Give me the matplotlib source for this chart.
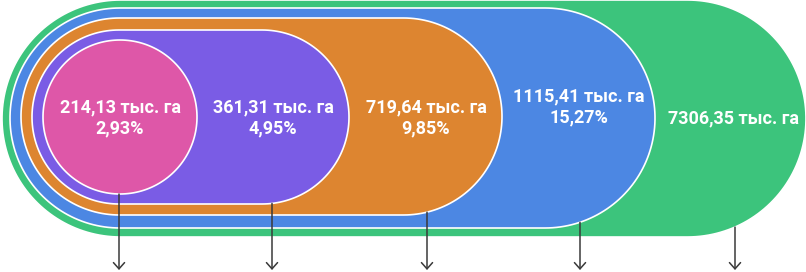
import numpy as np
import matplotlib.pyplot as plt
from matplotlib.patches import Polygon, FancyArrowPatch

plt.rcParams['font.family'] = ['Roboto', 'DejaVu Sans']

# data
areas = ['214,13', '361,31', '719,64', '1115,41', '7306,35']
shares = ['2,93%', '4,95%', '9,85%', '15,27%', '']
colors = ['#de57a8', '#7a5ce5', '#dd8530', '#4c87e3', '#3cc47c']

# layout (pixels): left, top, right, bottom of each nested stadium
boxes = [(43, 40, 197, 194),
         (32, 30, 349, 204),
         (21, 18, 502, 215),
         (10, 8, 655, 228),
         (2, 0, 806, 237)]
arrow_x = [119, 272, 427, 580, 735]
label_x = [120, 273, 426, 579, 733]
label_y = [107, 107, 107, 96, 118]


def stadium(l, t, r, b):
    rad = (b - t) / 2.
    cy = t + rad
    a = np.linspace(np.pi / 2, 3 * np.pi / 2, 90)
    left = np.c_[l + rad + rad * np.cos(a), cy - rad * np.sin(a)]
    a = np.linspace(-np.pi / 2, np.pi / 2, 90)
    right = np.c_[r - rad + rad * np.cos(a), cy - rad * np.sin(a)]
    return np.vstack([left, right])


fig = plt.figure(figsize=(8.06, 2.72), dpi=100)
ax = fig.add_axes([0, 0, 1, 1])
ax.set_xlim(0, 806)
ax.set_ylim(272, 0)
ax.axis('off')

# largest first so smaller ones sit on top
for i in range(len(boxes) - 1, -1, -1):
    p = Polygon(stadium(*boxes[i]), closed=True, fc=colors[i], ec='white',
                lw=1.2, zorder=5 - i)
    ax.add_patch(p)

for i in range(len(boxes)):
    l, t, r, b = boxes[i]
    rad = (b - t) / 2.
    cy = t + rad
    cx = r - rad
    dx = max(arrow_x[i] - cx, 0)
    y0 = cy + np.sqrt(rad ** 2 - dx ** 2)
    ar = FancyArrowPatch((arrow_x[i], y0), (arrow_x[i], 270),
                         arrowstyle='->,head_length=0.45,head_width=0.4',
                         mutation_scale=10, color='#3a3a3a', lw=1.1,
                         shrinkA=0, shrinkB=0, zorder=10)
    ax.add_patch(ar)

for i in range(len(areas)):
    ax.text(label_x[i], label_y[i], areas[i] + ' тыс. га', color='white',
            fontsize=13, fontweight='bold', ha='center', va='center', zorder=20)
    if shares[i]:
        ax.text(label_x[i], label_y[i] + 21, shares[i], color='white',
                fontsize=13, fontweight='bold', ha='center', va='center', zorder=20)

fig.savefig('out.png', dpi=100)
